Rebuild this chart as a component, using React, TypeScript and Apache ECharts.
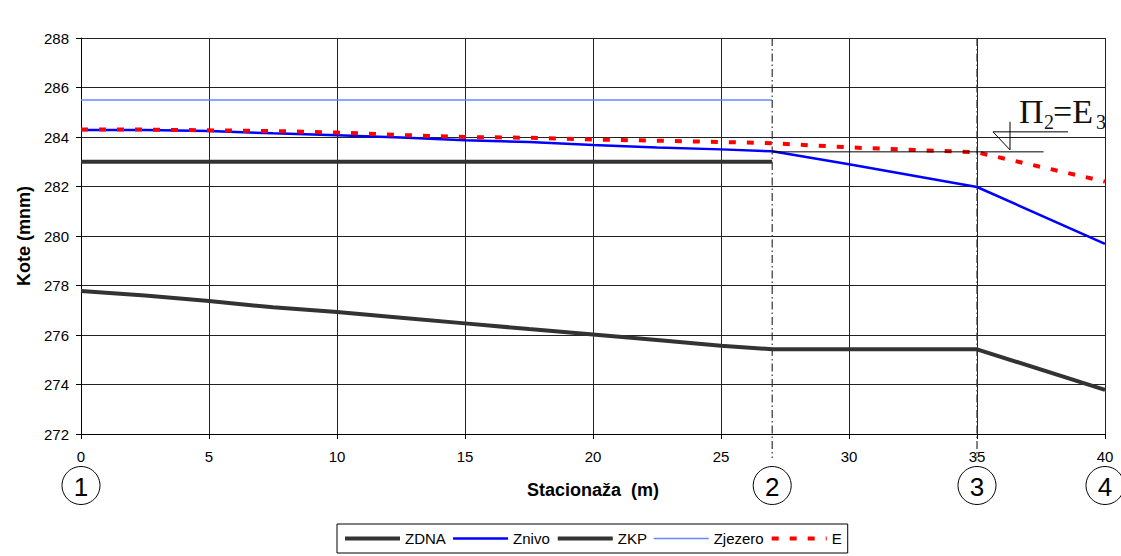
import React, { useEffect, useRef } from "react";
import * as echarts from "echarts";

const zdnaX = [0, 2.5, 5, 7.5, 10, 12.5, 15, 17.5, 20, 22.5, 25, 27, 35, 40];
const zdnaY = [277.78, 277.6, 277.37, 277.12, 276.93, 276.7, 276.47, 276.24, 276.02, 275.8, 275.57, 275.42, 275.42, 273.78];
const nivoX = [0, 2.5, 5, 7.5, 10, 12.5, 15, 17.5, 20, 22.5, 25, 27, 30, 35, 40];
const znivoY = [284.28, 284.28, 284.24, 284.15, 284.07, 283.98, 283.87, 283.8, 283.68, 283.58, 283.5, 283.42, 282.9, 281.98, 279.68];
const eY = [284.3, 284.3, 284.27, 284.24, 284.18, 284.08, 284.0, 283.97, 283.9, 283.85, 283.8, 283.75, 283.58, 283.38, 282.2];
const zkpX = [0, 27];
const zkpY = [283, 283];
const zjezeroX = [0, 27];
const zjezeroY = [285.5, 285.5];
const sectionX = [0, 27, 35, 40];
const sectionLabels = ["1", "2", "3", "4"];
const dashDotX = [27, 35];
const levelLine = { x1: 27, x2: 37.6, y: 283.4 };
const yTicks = { min: 272, max: 288, interval: 2 };
const xTicks = { min: 0, max: 40, interval: 5 };

const zip = (xs: number[], ys: number[]) => xs.map((x, i) => [x, ys[i]]);

export default function App() {
  const ref = useRef<HTMLDivElement>(null);
  useEffect(() => {
    if (!ref.current) return;
    const chart = echarts.init(ref.current, undefined, { renderer: "svg" });
    const font = "Liberation Sans, Arial, sans-serif";
    chart.setOption({
      animation: false,
      textStyle: { fontFamily: font },
      grid: { left: 81, right: 16, top: 38, bottom: 122 },
      legend: {
        left: 337,
        top: 524,
        itemWidth: 55,
        itemHeight: 14,
        itemGap: 6,
        padding: [7, 6, 7, 6],
        borderColor: "#000",
        borderWidth: 1,
        itemStyle: { opacity: 0 },
        lineStyle: { width: "inherit" },
        textStyle: { fontSize: 15, color: "#000", fontFamily: font },
        data: ["ZDNA", "Znivo", "ZKP", "Zjezero", "E"],
      },
      xAxis: {
        type: "value",
        min: xTicks.min,
        max: xTicks.max,
        interval: xTicks.interval,
        name: "Stacionaža  (m)",
        nameLocation: "middle",
        nameGap: 47,
        nameTextStyle: { fontWeight: "bold", fontSize: 18, color: "#000", fontFamily: font },
        axisLine: { lineStyle: { color: "#000", width: 1 } },
        axisTick: { show: true, length: 5, lineStyle: { color: "#000" } },
        axisLabel: { fontSize: 15, color: "#000", margin: 15, fontFamily: font },
        splitLine: { show: true, lineStyle: { color: "#222", width: 1 } },
      },
      yAxis: {
        type: "value",
        min: yTicks.min,
        max: yTicks.max,
        interval: yTicks.interval,
        name: "Kote (mnm)",
        nameLocation: "middle",
        nameGap: 48,
        nameTextStyle: { fontWeight: "bold", fontSize: 18, color: "#000", fontFamily: font },
        axisLine: { show: true, lineStyle: { color: "#000", width: 1 } },
        axisTick: { show: true, length: 5, lineStyle: { color: "#000" } },
        axisLabel: { fontSize: 15, color: "#000", margin: 12, fontFamily: font },
        splitLine: { show: true, lineStyle: { color: "#222", width: 1 } },
      },
      series: [
        {
          name: "ZDNA",
          type: "line",
          symbol: "none",
          data: zip(zdnaX, zdnaY),
          lineStyle: { color: "#333", width: 4 },
          itemStyle: { color: "#333" },
          z: 3,
        },
        {
          name: "Znivo",
          type: "line",
          symbol: "none",
          data: zip(nivoX, znivoY),
          lineStyle: { color: "#0000ff", width: 2.5 },
          itemStyle: { color: "#0000ff" },
          z: 4,
        },
        {
          name: "ZKP",
          type: "line",
          symbol: "none",
          data: zip(zkpX, zkpY),
          lineStyle: { color: "#333", width: 4 },
          itemStyle: { color: "#333" },
          z: 3,
        },
        {
          name: "Zjezero",
          type: "line",
          symbol: "none",
          data: zip(zjezeroX, zjezeroY),
          lineStyle: { color: "#6688ff", width: 1.5 },
          itemStyle: { color: "#6688ff" },
          z: 3,
        },
        {
          name: "E",
          type: "line",
          symbol: "none",
          data: zip(nivoX, eY),
          lineStyle: { color: "#ff0000", width: 4, type: [7, 11] },
          itemStyle: { color: "#ff0000" },
          z: 5,
        },
      ],
    });

    const px = (x: number, y: number) => chart.convertToPixel({ gridIndex: 0 }, [x, y]) as number[];
    const graphics: any[] = [];
    const topY = px(0, yTicks.max)[1];
    const botY = px(0, yTicks.min)[1];
    dashDotX.forEach((x) => {
      const p = px(x, yTicks.max);
      graphics.push({
        type: "line",
        shape: { x1: p[0], y1: topY, x2: p[0], y2: botY + 24 },
        style: { stroke: "#333", lineWidth: 1.2, lineDash: [8, 3, 1.5, 3] },
        z: 10,
      });
    });
    const l1 = px(levelLine.x1, levelLine.y);
    const l2 = px(levelLine.x2, levelLine.y);
    graphics.push({
      type: "line",
      shape: { x1: l1[0], y1: l1[1], x2: l2[0], y2: l2[1] },
      style: { stroke: "#000", lineWidth: 1 },
      z: 10,
    });
    // level symbol
    const s = px(35, levelLine.y);
    const tx = s[0] + 16;
    const ty = s[1] - 20;
    graphics.push({
      type: "polyline",
      shape: { points: [[tx + 75, ty], [tx, ty], [tx + 17, ty + 18]] },
      style: { stroke: "#000", lineWidth: 1, fill: "none" },
      z: 10,
    });
    graphics.push({
      type: "line",
      shape: { x1: tx + 17, y1: ty - 10, x2: tx + 17, y2: ty + 18 },
      style: { stroke: "#000", lineWidth: 1 },
      z: 10,
    });
    const serif = "Liberation Serif, Times New Roman, serif";
    const textParts = [
      { t: "Π", dx: 26, y: ty - 20, size: 34 },
      { t: "2", dx: 51, y: ty - 9.5, size: 20 },
      { t: "=E", dx: 60, y: ty - 20, size: 34 },
      { t: "3", dx: 103, y: ty - 9.5, size: 20 },
    ];
    textParts.forEach((p) => {
      graphics.push({
        type: "text",
        x: tx + p.dx,
        y: p.y,
        style: {
          text: p.t,
          fontSize: p.size,
          fontFamily: serif,
          fill: "#111",
          textAlign: "left",
          textVerticalAlign: "middle",
          verticalAlign: "middle",
        },
        z: 10,
      });
    });
    sectionX.forEach((x, i) => {
      const p = px(x, yTicks.min);
      const cy = p[1] + 51.5;
      graphics.push({
        type: "circle",
        shape: { cx: p[0], cy, r: 19 },
        style: { stroke: "#000", lineWidth: 1, fill: "none" },
        z: 10,
      });
      graphics.push({
        type: "text",
        x: p[0],
        y: cy + 1,
        style: {
          text: sectionLabels[i],
          fontSize: 26,
          fontFamily: font,
          fill: "#000",
          textAlign: "center",
          textVerticalAlign: "middle",
          verticalAlign: "middle",
        },
        z: 10,
      });
    });
    chart.setOption({ graphic: graphics });
    return () => chart.dispose();
  }, []);
  return (
    <div
      ref={ref}
      style={{ position: "fixed", left: 0, top: 0, width: 1121, height: 556, background: "#fff" }}
    />
  );
}
